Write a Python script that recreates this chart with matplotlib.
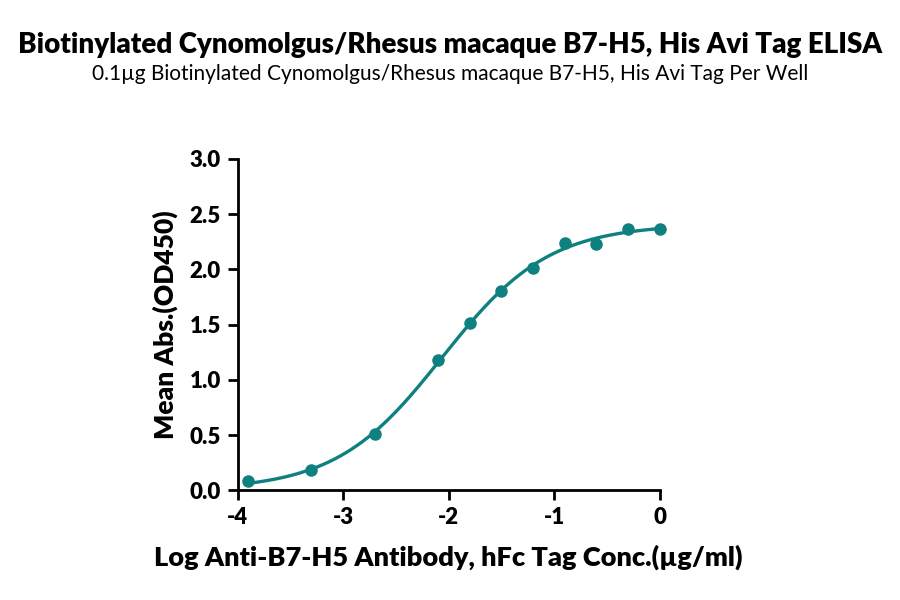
import numpy as np
import matplotlib
matplotlib.use('Agg')
import matplotlib.pyplot as plt

plt.rcParams['font.family'] = ['Lato', 'DejaVu Sans']

# data set
log_conc = [-3.9, -3.3, -2.7, -2.1, -1.8, -1.5, -1.2, -0.9, -0.6, -0.3, 0.0]
mean_abs = [0.08, 0.18, 0.51, 1.18, 1.51, 1.80, 2.01, 2.24, 2.23, 2.37, 2.37]
x_ticks = [-4, -3, -2, -1, 0]
y_ticks = [0.0, 0.5, 1.0, 1.5, 2.0, 2.5, 3.0]

color = '#0f8080'

# 4PL fit: grid search on ec50 / hill, bottom+top solved linearly
x = np.array(log_conc)
y = np.array(mean_abs)
best = None
for ec50 in np.linspace(-3, -1, 201):
    for hill in np.linspace(0.5, 2, 151):
        s = 1 / (1 + 10 ** ((ec50 - x) * hill))
        A = np.column_stack([np.ones_like(s), s])
        coef, *_ = np.linalg.lstsq(A, y, rcond=None)
        err = np.sum((A @ coef - y) ** 2)
        if best is None or err < best[0]:
            best = (err, ec50, hill, coef)
_, ec50, hill, (bottom, span) = best
xs = np.linspace(-3.9, 0, 300)
ys = bottom + span / (1 + 10 ** ((ec50 - xs) * hill))

fig = plt.figure(figsize=(9, 6), dpi=100)
ax = fig.add_axes([0.264, 0.183, 0.469, 0.552])

ax.plot(xs, ys, color=color, linewidth=2.4, clip_on=False)
ax.plot(log_conc, mean_abs, 'o', color=color, markersize=8, clip_on=False)

ax.set_xlim(-4, 0)
ax.set_ylim(0, 3)
ax.set_xticks(x_ticks)
ax.set_yticks(y_ticks)
ax.set_xticklabels([str(t) for t in x_ticks])
ax.set_yticklabels(['%.1f' % t for t in y_ticks])

for side in ['top', 'right']:
    ax.spines[side].set_visible(False)
for side in ['left', 'bottom']:
    ax.spines[side].set_linewidth(2)
ax.tick_params(width=2, length=7, labelsize=16, pad=5)
for lab in ax.get_xticklabels() + ax.get_yticklabels():
    lab.set_fontweight('heavy')

ax.set_xlabel('Log Anti-B7-H5 Antibody, hFc Tag Conc.(\u00b5g/ml)', fontsize=19.5, fontweight='heavy', labelpad=12)
ax.set_ylabel('Mean Abs.(OD450)', fontsize=19, fontweight='heavy', labelpad=8)

fig.text(0.5, 0.925, 'Biotinylated Cynomolgus/Rhesus macaque B7-H5, His Avi Tag ELISA',
         ha='center', va='center', fontsize=20, fontweight='heavy')
fig.text(0.5, 0.877, '0.1\u00b5g Biotinylated Cynomolgus/Rhesus macaque B7-H5, His Avi Tag Per Well',
         ha='center', va='center', fontsize=15, fontweight='normal')

plt.savefig('out.png', dpi=100)
